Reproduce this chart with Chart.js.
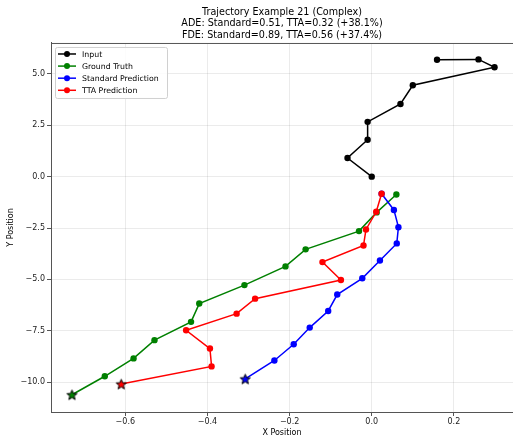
<!DOCTYPE html>
<html>
<head>
<meta charset="utf-8">
<script src="https://cdn.jsdelivr.net/npm/chart.js@4.4.0/dist/chart.umd.min.js"></script>
<style>
  html, body { margin: 0; padding: 0; background: #fff; overflow: hidden; }
  #wrap { width: 513px; height: 441px; overflow: hidden; }
</style>
</head>
<body>
<div id="wrap"><canvas id="trajChart" width="517" height="441"></canvas></div>
<script>
// values
const inputX = [0.159, 0.260, 0.299, 0.100, 0.070, -0.010, -0.010, -0.059, 0.000];
const inputY = [5.69, 5.71, 5.33, 4.45, 3.54, 2.67, 1.80, 0.91, 0.00];

const truthX = [0.060, 0.012, -0.031, -0.161, -0.210, -0.310, -0.420, -0.440, -0.529, -0.580, -0.650, -0.730];
const truthY = [-0.87, -1.74, -2.65, -3.54, -4.37, -5.28, -6.18, -7.07, -7.96, -8.85, -9.72, -10.62];

const standardX = [0.024, 0.054, 0.065, 0.061, 0.020, -0.023, -0.084, -0.106, -0.151, -0.190, -0.237, -0.308];
const standardY = [-0.83, -1.62, -2.46, -3.25, -4.08, -4.95, -5.74, -6.54, -7.35, -8.16, -8.95, -9.85];

const ttaX = [0.024, 0.011, -0.014, -0.020, -0.120, -0.075, -0.284, -0.329, -0.452, -0.394, -0.390, -0.610];
const ttaY = [-0.83, -1.71, -2.57, -3.35, -4.16, -5.03, -5.94, -6.67, -7.48, -8.37, -9.24, -10.10];

const xTicks = [-0.6, -0.4, -0.2, 0.0, 0.2];
const yTicks = [-10.0, -7.5, -5.0, -2.5, 0.0, 2.5, 5.0];

const titleLines = [
  'Trajectory Example 21 (Complex)',
  'ADE: Standard=0.51, TTA=0.32 (+38.1%)',
  'FDE: Standard=0.89, TTA=0.56 (+37.4%)'
];

const FONT = 'DejaVu Sans';

function toPoints(xs, ys) {
  return xs.map((x, i) => ({ x: x, y: ys[i] }));
}

function makeStar(color) {
  const c = document.createElement('canvas');
  c.width = 13; c.height = 13;
  const g = c.getContext('2d');
  g.beginPath();
  for (let i = 0; i < 10; i++) {
    const r = i % 2 === 0 ? 5.3 : 2.3;
    const a = -Math.PI / 2 + i * Math.PI / 5;
    const px = 6.5 + r * Math.cos(a), py = 7 + r * Math.sin(a);
    if (i === 0) g.moveTo(px, py); else g.lineTo(px, py);
  }
  g.closePath();
  g.fillStyle = color;
  g.fill();
  g.lineWidth = 1;
  g.strokeStyle = '#000';
  g.stroke();
  return c;
}

function makeSeries(label, xs, ys, color, order, star) {
  const styles = xs.map((_, i) => (star && i === xs.length - 1) ? makeStar(color) : 'circle');
  return {
    label: label,
    data: toPoints(xs, ys),
    showLine: true,
    borderColor: color,
    backgroundColor: color,
    borderWidth: 1.5,
    pointRadius: 3.2,
    pointBorderWidth: 0,
    pointStyle: styles,
    order: order
  };
}

const fmt = v => Number(v).toFixed(1).replace('-', '\u2212');

const legendPlugin = {
  id: 'boxLegend',
  afterDraw(chart) {
    const ctx = chart.ctx;
    const area = chart.chartArea;
    const sets = chart.data.datasets;
    const x0 = area.left + 4, y0 = area.top + 4;
    ctx.save();
    ctx.fillStyle = 'rgba(255,255,255,0.85)';
    ctx.strokeStyle = '#d0d0d0';
    ctx.lineWidth = 1;
    ctx.beginPath();
    ctx.roundRect(x0 + 0.5, y0 + 0.5, 112, 51, 2);
    ctx.fill();
    ctx.stroke();
    ctx.font = '7.8px "' + FONT + '"';
    ctx.textBaseline = 'middle';
    sets.forEach((ds, i) => {
      const cy = y0 + 7 + i * 12.1;
      ctx.strokeStyle = ds.borderColor;
      ctx.lineWidth = 1.5;
      ctx.beginPath();
      ctx.moveTo(x0 + 3, cy);
      ctx.lineTo(x0 + 21, cy);
      ctx.stroke();
      ctx.fillStyle = ds.borderColor;
      ctx.beginPath();
      ctx.arc(x0 + 12, cy, 3, 0, Math.PI * 2);
      ctx.fill();
      ctx.fillStyle = '#000';
      ctx.fillText(ds.label, x0 + 27, cy + 0.5);
    });
    ctx.restore();
  }
};

const framePlugin = {
  id: 'topFrame',
  afterDraw(chart) {
    const ctx = chart.ctx;
    const a = chart.chartArea;
    ctx.save();
    ctx.strokeStyle = '#555';
    ctx.lineWidth = 1;
    ctx.beginPath();
    ctx.moveTo(a.left, a.top + 0.5);
    ctx.lineTo(a.right, a.top + 0.5);
    ctx.stroke();
    ctx.restore();
  }
};

const ctx = document.getElementById('trajChart').getContext('2d');
new Chart(ctx, {
  type: 'scatter',
  data: {
    datasets: [
      makeSeries('Input', inputX, inputY, '#000000', 4, false),
      makeSeries('Ground Truth', truthX, truthY, '#008000', 3, true),
      makeSeries('Standard Prediction', standardX, standardY, '#0000ff', 2, true),
      makeSeries('TTA Prediction', ttaX, ttaY, '#ff0000', 1, true)
    ]
  },
  options: {
    responsive: false,
    animation: false,
    layout: { padding: 0 },
    plugins: {
      legend: { display: false },
      tooltip: { enabled: false },
      title: {
        display: true,
        fullSize: false,
        text: titleLines,
        color: '#000',
        font: { family: FONT, size: 9.6, weight: 'normal', lineHeight: 1.18 },
        padding: { top: 7, bottom: 2 }
      }
    },
    scales: {
      x: {
        type: 'linear',
        min: -0.781,
        max: 0.344,
        afterBuildTicks: s => { s.ticks = xTicks.map(v => ({ value: v })); },
        afterFit: s => { s.height = 29; },
        ticks: {
          callback: v => fmt(v),
          color: '#222',
          font: { family: FONT, size: 8 },
          padding: 1,
          maxRotation: 0
        },
        grid: { color: 'rgba(0,0,0,0.08)', tickColor: '#555', tickLength: 4 },
        border: { color: '#555', width: 1 },
        title: {
          display: true,
          text: 'X Position',
          color: '#000',
          font: { family: FONT, size: 8 },
          padding: { top: 0, bottom: 3 }
        }
      },
      y: {
        type: 'linear',
        min: -11.46,
        max: 6.51,
        afterBuildTicks: s => { s.ticks = yTicks.map(v => ({ value: v })); },
        afterFit: s => { s.width = 51; },
        ticks: {
          callback: v => fmt(v),
          color: '#222',
          font: { family: FONT, size: 8 },
          padding: 2
        },
        grid: { color: 'rgba(0,0,0,0.08)', tickColor: '#555', tickLength: 4 },
        border: { color: '#555', width: 1 },
        title: {
          display: true,
          text: 'Y Position',
          color: '#000',
          font: { family: FONT, size: 8 },
          padding: { top: 6, bottom: 0 }
        }
      }
    }
  },
  plugins: [legendPlugin, framePlugin]
});
</script>
</body>
</html>
